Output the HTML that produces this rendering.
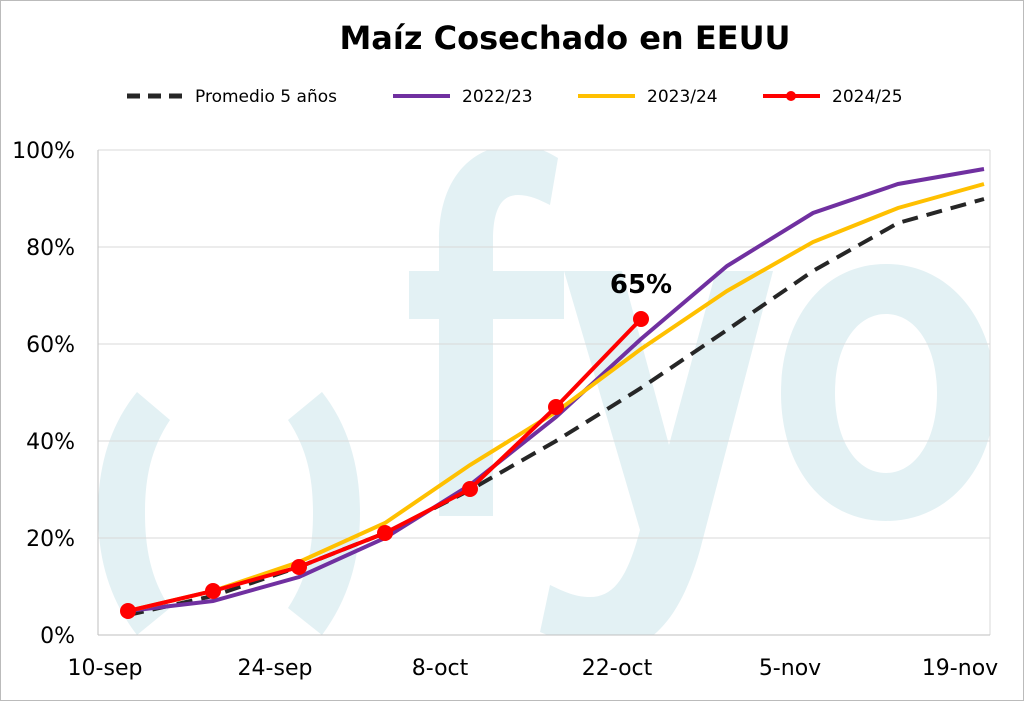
<!DOCTYPE html>
<html><head><meta charset="utf-8"><style>
body{margin:0;background:#fff}
svg{display:block}
</style></head><body>
<svg width="1024" height="701" xmlns="http://www.w3.org/2000/svg" font-family="Verdana, 'DejaVu Sans', sans-serif">
<defs><clipPath id="pc"><rect x="98" y="150" width="892" height="485"/></clipPath></defs>
<rect x="0.5" y="0.5" width="1023" height="700" fill="#fff" stroke="#bbb"/>
<g fill="#e3f1f4" clip-path="url(#pc)">
<path d="M439,516 L439,319 L409,319 L409,271 L439,271 L439,240 C439,175 475,145 515,145 C535,145 548,152 558,158 L550,205 C540,200 530,195 518,195 C500,195 493,212 493,240 L493,271 L564,271 L564,319 L493,319 L493,516 Z"/>
<path d="M564,271 L622,271 L669,445 L716,271 L773,271 L700,550 C680,620 650,650 612,650 C580,650 560,640 540,632 L550,585 C565,592 575,597 590,597 C615,597 628,575 640,530 Z"/>
<path fill-rule="evenodd" d="M886,264 C950,264 995,320 995,393 C995,466 950,521 886,521 C822,521 781,466 781,393 C781,320 822,264 886,264 Z M886,314 C857,314 835,345 835,393 C835,441 857,473 886,473 C915,473 937,441 937,393 C937,345 915,314 886,314 Z"/>
<path d="M137,392 L170,420 C150,450 145,480 145,513 C145,546 150,578 170,608 L137,635 C110,600 98,560 98,513 C98,466 110,425 137,392 Z"/>
<path d="M322,392 L288,420 C308,450 313,480 313,513 C313,546 308,578 288,608 L322,635 C348,600 360,560 360,513 C360,466 348,425 322,392 Z"/>
</g>
<g stroke="#d9d9d9" stroke-width="1">
<line x1="98" y1="150" x2="990" y2="150"/>
<line x1="98" y1="247" x2="990" y2="247"/>
<line x1="98" y1="344" x2="990" y2="344"/>
<line x1="98" y1="441" x2="990" y2="441"/>
<line x1="98" y1="538" x2="990" y2="538"/>
<line x1="990" y1="150" x2="990" y2="635"/>
</g>
<line x1="98" y1="150" x2="98" y2="635" stroke="#bfbfbf"/>
<line x1="98" y1="635" x2="990" y2="635" stroke="#bfbfbf"/>
<g font-size="22" fill="#000" text-anchor="end">
<text x="75" y="158">100%</text><text x="75" y="255">80%</text><text x="75" y="352">60%</text>
<text x="75" y="449">40%</text><text x="75" y="546">20%</text><text x="75" y="643">0%</text>
</g>
<g font-size="22" fill="#000" text-anchor="middle">
<text x="105" y="675">10-sep</text><text x="275" y="675">24-sep</text><text x="440" y="675">8-oct</text>
<text x="617" y="675">22-oct</text><text x="790" y="675">5-nov</text><text x="960" y="675">19-nov</text>
</g>
<text x="565" y="49" font-size="32" font-weight="bold" text-anchor="middle">Maíz Cosechado en EEUU</text>
<g font-size="17">
<line x1="127" y1="96" x2="183" y2="96" stroke="#262626" stroke-width="5" stroke-dasharray="13,8"/>
<text x="195" y="102">Promedio 5 años</text>
<line x1="393" y1="96" x2="450" y2="96" stroke="#7030a0" stroke-width="4"/>
<text x="462" y="102">2022/23</text>
<line x1="578" y1="96" x2="635" y2="96" stroke="#ffc000" stroke-width="4"/>
<text x="647" y="102">2023/24</text>
<line x1="763" y1="96" x2="820" y2="96" stroke="#ff0000" stroke-width="4"/>
<circle cx="791" cy="96" r="5" fill="#ff0000"/>
<text x="832" y="102">2024/25</text>
</g>
<polyline fill="none" stroke="#262626" stroke-width="4" stroke-dasharray="16,9" points="128,615 213,596 299,567 385,533 470,490 556,441 641,388 727,330 813,271 898,223 984,199"/>
<polyline fill="none" stroke="#7030a0" stroke-width="4" points="128,611 213,601 299,577 385,538 470,485 556,417 641,339 727,266 813,213 898,184 984,169"/>
<polyline fill="none" stroke="#ffc000" stroke-width="4" points="128,611 213,591 299,562 385,523 470,465 556,412 641,349 727,291 813,242 898,208 984,184"/>
<polyline fill="none" stroke="#ff0000" stroke-width="4" points="128,611 213,591 299,567 385,533 470,489 556,407 641,319"/>
<g fill="#ff0000">
<circle cx="128" cy="611" r="8"/><circle cx="213" cy="591" r="8"/><circle cx="299" cy="567" r="8"/>
<circle cx="385" cy="533" r="8"/><circle cx="470" cy="489" r="8"/><circle cx="556" cy="407" r="8"/><circle cx="641" cy="319" r="8"/>
</g>
<text x="641" y="293" font-size="26" font-weight="bold" text-anchor="middle">65%</text>
</svg>
</body></html>
